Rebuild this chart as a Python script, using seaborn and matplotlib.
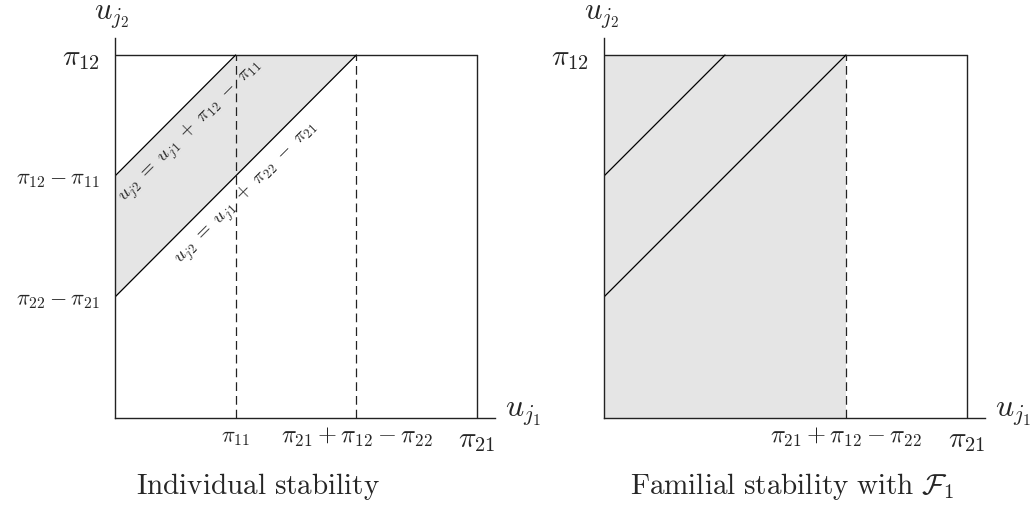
import numpy as np
import pandas as pd
import matplotlib.pyplot as plt
import seaborn as sns

sns.set_theme(style="white")
plt.rcParams["mathtext.fontset"] = "cm"
plt.rcParams["font.family"] = ["DejaVu Serif"]

# payoff values (box is pi21 wide and pi12 tall)
pi11, pi12, pi21, pi22 = 1.0, 3.0, 3.0, 4.0

upper_u1 = [0.0, pi11]
upper_u2 = [pi12 - pi11, pi12]
lower_u1 = [0.0, pi21 + pi12 - pi22]
lower_u2 = [pi22 - pi21, pi12]

left_xticks = [pi11, pi21 + pi12 - pi22, pi21]
left_xlabels = [r"$\pi_{11}$", r"$\pi_{21}+\pi_{12}-\pi_{22}$", r"$\pi_{21}$"]
left_yticks = [pi22 - pi21, pi12 - pi11, pi12]
left_ylabels = [r"$\pi_{22}-\pi_{21}$", r"$\pi_{12}-\pi_{11}$", r"$\pi_{12}$"]
right_xticks = [pi21 + pi12 - pi22, pi21]
right_xlabels = [r"$\pi_{21}+\pi_{12}-\pi_{22}$", r"$\pi_{21}$"]
right_yticks = [pi12]
right_ylabels = [r"$\pi_{12}$"]
titles = [r"$\mathrm{Individual\ stability}$",
          r"$\mathrm{Familial\ stability\ with\ }\mathcal{F}_1$"]
line_labels = [r"$u_{j2}\ =\ u_{j1}\ +\ \pi_{12}\ -\ \pi_{11}$",
               r"$u_{j2}\ =\ u_{j1}\ +\ \pi_{22}\ -\ \pi_{21}$"]

W, H = 1035, 513
fig = plt.figure(figsize=(W / 100, H / 100), dpi=100)

def px_axes(x0, y_top, x1, y_bot):
    return fig.add_axes([x0 / W, 1 - y_bot / H, (x1 - x0) / W, (y_bot - y_top) / H])

# axes run a bit past the box (arrow-less axis lines)
ext_x = pi21 * (495 - 115) / 362
ext_y = pi12 * (418 - 38) / 363
ax1 = px_axes(115, 38, 495, 418)
ax2 = px_axes(604, 38, 985, 418)

lines = pd.concat([
    pd.DataFrame({"u1": upper_u1, "u2": upper_u2, "line": "upper"}),
    pd.DataFrame({"u1": lower_u1, "u2": lower_u2, "line": "lower"}),
])

edge = "#222222"
fill = "#e5e5e5"

for ax, xt, xl, yt, yl in [(ax1, left_xticks, left_xlabels, left_yticks, left_ylabels),
                           (ax2, right_xticks, right_xlabels, right_yticks, right_ylabels)]:
    ax.set_xlim(0, ext_x)
    ax.set_ylim(0, ext_y)
    for s in ["top", "right"]:
        ax.spines[s].set_visible(False)
    for s in ["left", "bottom"]:
        ax.spines[s].set_color(edge)
        ax.spines[s].set_linewidth(1.0)
    # box top and right edge
    ax.plot([0, pi21], [pi12, pi12], color=edge, lw=1.0)
    ax.plot([pi21, pi21], [0, pi12], color=edge, lw=1.0)
    ax.set_xticks(xt, xl)
    ax.set_yticks(yt, yl)
    ax.tick_params(axis="both", length=0)
    ax.tick_params(axis="x", pad=6)
    ax.tick_params(axis="y", pad=11)
    for lab in ax.get_xticklabels() + ax.get_yticklabels():
        lab.set_fontsize(16)
    for lab in ax.get_xticklabels()[-2:-1]:
        lab.set_fontsize(17.5)
    ax.get_xticklabels()[-1].set_fontsize(21)
    ax.get_yticklabels()[-1].set_fontsize(21)
    sns.lineplot(data=lines, x="u1", y="u2", units="line", estimator=None,
                 color="black", lw=0.9, ax=ax, sort=False)
    ax.set_xlabel("")
    ax.set_ylabel("")
    ax.patch.set_alpha(0)

# left: band between the two lines
xs = np.array([0.0, pi11, pi21 + pi12 - pi22])
low = np.minimum(xs + pi22 - pi21, pi12)
high = np.minimum(xs + pi12 - pi11, pi12)
ax1.fill_between(xs, low, high, color=fill, lw=0, zorder=0)
for xv in [pi11, pi21 + pi12 - pi22]:
    ax1.plot([xv, xv], [0, pi12], color=edge, lw=0.9, ls=(0, (7, 4)))

ax1.text(0.62, 2.37, line_labels[0], rotation=45, ha="center", va="center",
         rotation_mode="anchor", fontsize=13.5)
ax1.text(1.09, 1.86, line_labels[1], rotation=45, ha="center", va="center",
         rotation_mode="anchor", fontsize=13.5)

# right: everything left of pi21+pi12-pi22
ax2.fill_between([0, pi21 + pi12 - pi22], 0, pi12, color=fill, lw=0, zorder=0)
ax2.plot([pi21 + pi12 - pi22] * 2, [0, pi12], color=edge, lw=0.9, ls=(0, (7, 4)))

for x0, x1 in [(505, 112), (995, 602)]:
    fig.text(x0 / W, 1 - 412 / H, r"$u_{j_1}$", fontsize=23, ha="left", va="center")
    fig.text(x1 / W, 1 - 15 / H, r"$u_{j_2}$", fontsize=22, ha="center", va="center")

fig.text(258 / W, 1 - 487 / H, titles[0], fontsize=21, ha="center", va="center")
fig.text(792 / W, 1 - 487 / H, titles[1], fontsize=21, ha="center", va="center")

fig.savefig("out.png", dpi=100, facecolor="white")
